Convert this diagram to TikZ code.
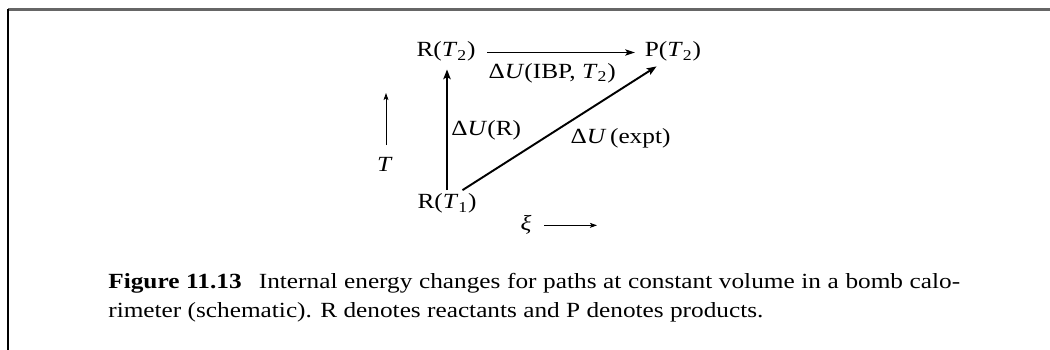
\documentclass[tikz,border=0pt]{standalone}
\usepackage{fontspec}
\setmainfont{Liberation Serif}[FakeStretch=1.17]
\usetikzlibrary{arrows.meta}
\newcommand{\tsub}[1]{\textit{T}\textsubscript{#1}}
\newcommand{\dU}{Δ\textit{U}}
\begin{document}
\begin{tikzpicture}[x=0.02cm, y=-0.02cm,
  font=\fontsize{12.3}{16}\selectfont,
  state/.style={inner sep=2pt, anchor=base},
  lbl/.style={inner sep=2pt},
  mainarr/.style={line width=1.1pt, -{Stealth[length=5.5pt,width=4.2pt,inset=1.2pt]}},
  toparr/.style={line width=0.75pt, -{Stealth[length=5.5pt,width=3.6pt,inset=1.2pt]}},
  smallarr/.style={line width=0.55pt, -{Stealth[length=4pt,width=2.8pt,inset=0.9pt]}}]
\useasboundingbox (0,0) rectangle (1050,350);
% frame
\draw[line width=1.2pt, black!60] (8,9.5) -- (1050,9.5);
\draw[line width=0.6pt] (8,9.5) -- (8,350);
% states
\node[state] (R2) at (446,57) {R(\tsub{2})};
\node[state] (P2) at (673,57) {P(\tsub{2})};
\node[state] (R1) at (447,209) {R(\tsub{1})};
\node[state] (T) at (385,172) {\textit{T}};
\node[state] (xi) at (526,231) {\textit{ξ}};
\coordinate (Ttop) at (386,93);
\coordinate (xiend) at (597,226);
% paths
\draw[toparr, shorten <=4.5pt, shorten >=3.5pt] ([yshift=0.09cm]R2.base east) -- ([yshift=0.09cm]P2.base west)
  node[lbl, below=4pt, pos=0.45] {\dU(IBP, \tsub{2})};
\draw[mainarr, shorten >=2.3pt] (R1.north) -- (R1.north |- R2.south)
  node[lbl, right, pos=0.48] {\dU(R)};
\draw[mainarr, shorten >=1pt] ([xshift=0.31cm]R1.north) -- ([xshift=-0.3cm]P2.south)
  node[lbl, anchor=north west, pos=0.53] {\dU\,(expt)};
\draw[smallarr, shorten <=5pt] (Ttop |- T.north) -- (Ttop);
\draw[smallarr, shorten <=5pt] (xi.east) -- (xi.east -| xiend);
% caption
\node[inner sep=0pt, anchor=base west, text width=17.04cm, align=justify] (cap) at (108,289)
  {\textbf{Figure 11.13}\hspace{0.8em}Internal energy changes for paths at constant volume in a bomb calo-\linebreak rimeter (schematic). R denotes reactants and P denotes products.};
\end{tikzpicture}
\end{document}
